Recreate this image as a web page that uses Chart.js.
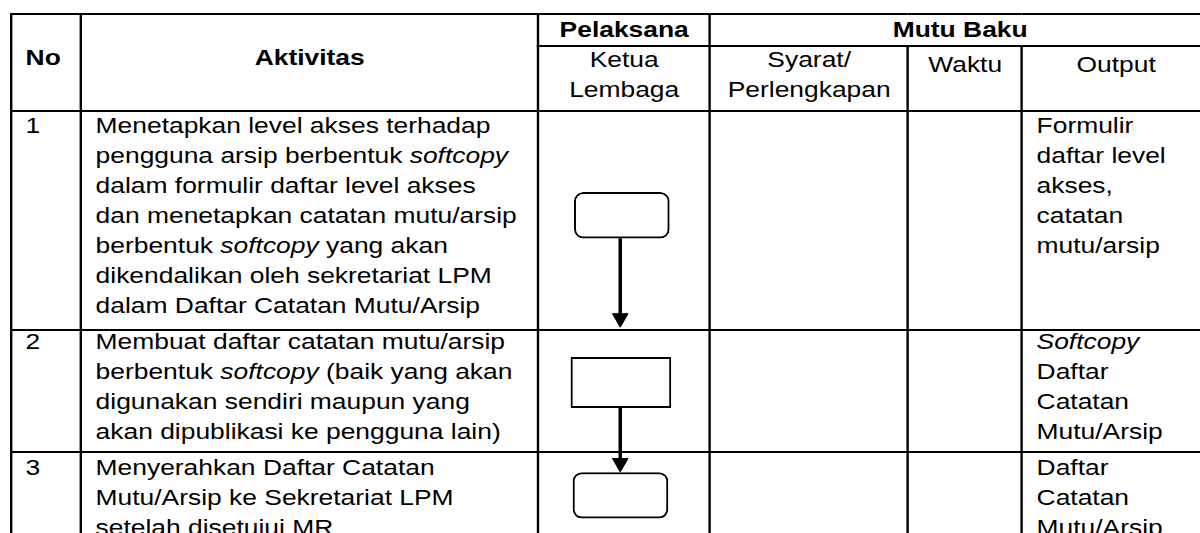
<!DOCTYPE html>
<html>
<head>
<meta charset="utf-8">
<script src="https://cdn.jsdelivr.net/npm/chart.js@4/dist/chart.umd.min.js"></script>
<style>
  html, body { margin: 0; padding: 0; background: #fff; }
  body { width: 1200px; height: 533px; overflow: hidden; position: relative;
         font-family: "Liberation Sans", Arial, sans-serif; color: #000; }
  /* the source picture is stretched sideways, so the table is laid out narrow and scaled */
  table { position: absolute; left: 10px; top: 13px; border-collapse: collapse;
          table-layout: fixed; font-size: 22px; line-height: 30px;
          transform-origin: 0 0; }
  td, th { border: 2px solid #000; padding: 0 0 0 11px; vertical-align: top;
           text-align: left; font-weight: normal; white-space: nowrap; }
  th { text-align: center; padding: 0; }
  th.b { font-weight: bold; vertical-align: middle; }
  th.left { text-align: left; padding-left: 11px; }
  .txt { position: relative; }
  #flowBox { position: absolute; pointer-events: none; }
</style>
</head>
<body>
<table id="sop">
  <colgroup id="cols"></colgroup>
  <thead id="head"></thead>
  <tbody id="body"></tbody>
</table>
<div id="flowBox"><canvas id="flowCanvas"></canvas></div>

<script>
// ---- table content ----
const stretchX = 1.2;
const colWidths = [70, 457, 172, 198, 114, 188];
const headGroups = ["Pelaksana", "Mutu Baku"];
const headCols = ["Ketua<br>Lembaga", "Syarat/<br>Perlengkapan", "Waktu", "Output"];
const stepNo = ["1", "2", "3"];
const activities = [
  ["Menetapkan level akses terhadap",
   "pengguna arsip berbentuk <i>softcopy</i>",
   "dalam formulir daftar level akses",
   "dan menetapkan catatan mutu/arsip",
   "berbentuk <i>softcopy</i> yang akan",
   "dikendalikan oleh sekretariat LPM",
   "dalam Daftar Catatan Mutu/Arsip"],
  ["Membuat daftar catatan mutu/arsip",
   "berbentuk <i>softcopy</i> (baik yang akan",
   "digunakan sendiri maupun yang",
   "akan dipublikasi ke pengguna lain)"],
  ["Menyerahkan Daftar Catatan",
   "Mutu/Arsip ke Sekretariat LPM",
   "setelah disetujui MR"]
];
const outputs = [
  ["Formulir", "daftar level", "akses,", "catatan", "mutu/arsip"],
  ["<i>Softcopy</i>", "Daftar", "Catatan", "Mutu/Arsip"],
  ["Daftar", "Catatan", "Mutu/Arsip"]
];
const rowHeights = [219, 118, 200];
const textShift = [-1, -4, 0];

// ---- flow chart data (Ketua Lembaga column) ----
const stepShapes = ["terminator", "process", "terminator"];

// build the table
let table = document.getElementById("sop");
table.style.transform = `scaleX(${stretchX})`;
table.style.width = (colWidths.reduce((a, b) => a + b, 0) / stretchX) + "px";
document.getElementById("cols").innerHTML =
  colWidths.map(w => `<col style="width:${w / stretchX}px">`).join("");

document.getElementById("head").innerHTML =
  `<tr style="height:30px">
     <th class="b left" rowspan="2" style="padding-bottom:10px">No</th>
     <th class="b" rowspan="2" style="padding-bottom:10px">Aktivitas</th>
     <th class="b">${headGroups[0]}</th>
     <th class="b" colspan="3">${headGroups[1]}</th>
   </tr>
   <tr style="height:65px">
     ${headCols.map((h, i) => `<th><div class="txt" style="top:${i >= 2 ? 3 : -2}px">${h}</div></th>`).join("")}
   </tr>`;

let bodyHtml = "";
for (let i = 0; i < stepNo.length; i++)
{
  let shift = `class="txt" style="top:${textShift[i]}px"`;
  bodyHtml += `<tr style="height:${rowHeights[i]}px">
    <td><div ${shift}>${stepNo[i]}</div></td>
    <td><div ${shift}>${activities[i].join("<br>")}</div></td>
    <td class="flow"></td>
    <td></td>
    <td></td>
    <td><div ${shift}>${outputs[i].join("<br>")}</div></td>
  </tr>`;
}
document.getElementById("body").innerHTML = bodyHtml;

// ---- place the chart over the flow column ----
let flowCells = document.querySelectorAll("td.flow");
let firstRect = flowCells[0].getBoundingClientRect();
let colLeft = firstRect.left;
let colTop = firstRect.top;
let colW = firstRect.width;
let colH = 533 - colTop;

let box = document.getElementById("flowBox");
box.style.left = colLeft + "px";
box.style.top = colTop + "px";
box.style.width = colW + "px";
box.style.height = colH + "px";

// row tops relative to the chart
let rowTops = [];
for (let i = 0; i < flowCells.length; i++)
{
  rowTops.push(flowCells[i].getBoundingClientRect().top - colTop);
}

// layout of shapes inside each row
const boxOffset = [75, 29, 28];
const boxHeight = [48, 53, 48];
const boxCenter = [81, 79, 78];
const shaftX = 77.5;
const headSize = 9;

let terminators = [];
let processes = [];
for (let i = 0; i < stepShapes.length; i++)
{
  let top = rowTops[i] + boxOffset[i];
  let item = {x: boxCenter[i], y: [top, top + boxHeight[i]]};
  if (stepShapes[i] == "terminator") terminators.push(item);
  else processes.push(item);
}

// arrows: from the bottom of a box down to the next step
let arrowSets = [];
for (let i = 0; i < stepShapes.length - 1; i++)
{
  let from = rowTops[i] + boxOffset[i] + boxHeight[i];
  let tip = (i == 0) ? rowTops[i + 1] - 3 : rowTops[i + 1] + boxOffset[i + 1] - 1;
  arrowSets.push({
    type: "line",
    data: [{x: shaftX, y: from}, {x: shaftX, y: tip - headSize}],
    borderColor: "#000",
    borderWidth: 3.5,
    pointRadius: [0, headSize],
    pointStyle: "triangle",
    rotation: 180,
    pointBackgroundColor: "#000",
    pointBorderColor: "#000",
    pointBorderWidth: 1,
    order: 2,
    clip: false
  });
}

new Chart(document.getElementById("flowCanvas"), {
  type: "bar",
  data: {
    datasets: [
      {
        label: "terminator",
        data: terminators,
        backgroundColor: "#fff",
        borderColor: "#000",
        borderWidth: 2,
        borderSkipped: false,
        borderRadius: 9,
        barThickness: 95,
        grouped: false,
        order: 1
      },
      {
        label: "process",
        data: processes,
        backgroundColor: "#fff",
        borderColor: "#000",
        borderWidth: 2,
        borderSkipped: false,
        borderRadius: 0,
        barThickness: 100,
        grouped: false,
        order: 1
      }
    ].concat(arrowSets)
  },
  options: {
    responsive: true,
    maintainAspectRatio: false,
    animation: false,
    layout: {padding: 0},
    plugins: {legend: {display: false}, tooltip: {enabled: false}},
    scales: {
      x: {type: "linear", min: 0, max: colW, display: false},
      y: {type: "linear", min: 0, max: colH, reverse: true, display: false}
    }
  }
});
</script>
</body>
</html>
